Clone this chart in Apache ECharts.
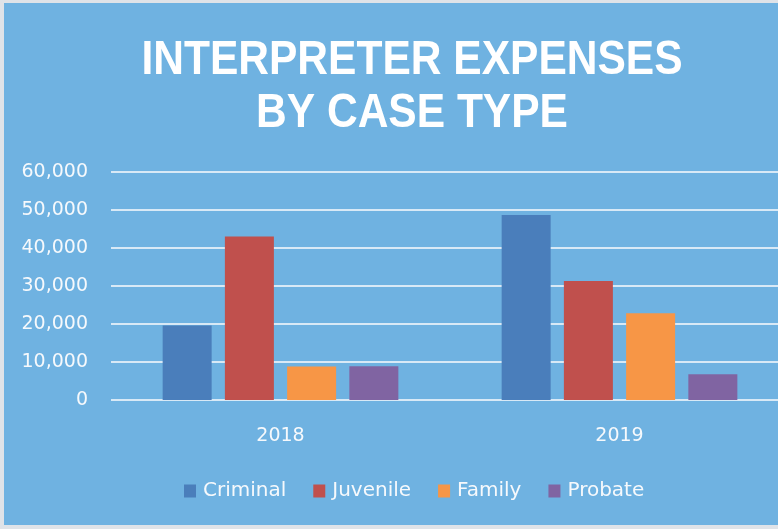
<!DOCTYPE html>
<html>
<head>
<meta charset="utf-8">
<script src="https://cdn.jsdelivr.net/npm/echarts@6/dist/echarts.min.js"></script>
<style>
  html, body { margin: 0; padding: 0; background: #dfe3e8; }
  #chart { position: absolute; left: 4px; top: 3px; width: 774px; height: 522px; }
</style>
</head>
<body>
<div id="chart"></div>
<script>
// data
var years = ['2018', '2019'];
var caseTypes = ['Criminal', 'Juvenile', 'Family', 'Probate'];
var criminal = [19600, 48700];
var juvenile = [43000, 31300];
var family = [8800, 22800];
var probate = [8900, 6800];
var yTicks = [0, 10000, 20000, 30000, 40000, 50000, 60000];

var colors = ['#4a7ebb', '#c0504d', '#f79646', '#8064a2'];
var values = [criminal, juvenile, family, probate];

var chartDom = document.getElementById('chart');
var myChart = echarts.init(chartDom);
var option;

var labelFont = 'DejaVu Sans';

option = {
    backgroundColor: '#6fb2e1',
    animation: false,
    // title drawn as graphic so it can be squeezed like a narrow font
    graphic: [{
        type: 'text',
        x: 408,
        y: 31,
        scaleX: 0.886,
        style: {
            text: 'INTERPRETER EXPENSES\nBY CASE TYPE',
            fill: '#ffffff',
            font: 'bold 48px "Liberation Sans", Arial, sans-serif',
            align: 'center',
            verticalAlign: 'top',
            lineHeight: 53
        }
    }],
    legend: {
        data: caseTypes,
        left: 180,
        top: 478,
        padding: 0,
        itemWidth: 12,
        itemHeight: 13,
        itemGap: 27,
        icon: 'rect',
        textStyle: {
            color: '#f6f9fc',
            fontFamily: labelFont,
            fontSize: 20,
            padding: [0, 0, 0, 2]
        }
    },
    grid: {
        left: 107,
        top: 169,
        width: 678,
        height: 228,
        outerBoundsMode: 'none'
    },
    xAxis: {
        type: 'category',
        data: years,
        axisLine: { show: false },
        axisTick: { show: false },
        axisLabel: {
            color: '#f6f9fc',
            fontFamily: labelFont,
            fontSize: 19,
            margin: 27
        }
    },
    yAxis: {
        type: 'value',
        min: yTicks[0],
        max: yTicks[yTicks.length - 1],
        interval: 10000,
        axisLine: { show: false },
        axisTick: { show: false },
        splitLine: { lineStyle: { color: '#d8e9f6', width: 2 } },
        axisLabel: {
            color: '#f6f9fc',
            fontFamily: labelFont,
            fontSize: 19,
            margin: 23,
            formatter: function (v) { return v.toLocaleString('en-US'); }
        }
    },
    series: caseTypes.map(function (name, i) {
        return {
            name: name,
            type: 'bar',
            data: values[i],
            barWidth: 49,
            barGap: '27%',
            itemStyle: { color: colors[i] }
        };
    })
};

option && myChart.setOption(option);
</script>
</body>
</html>
